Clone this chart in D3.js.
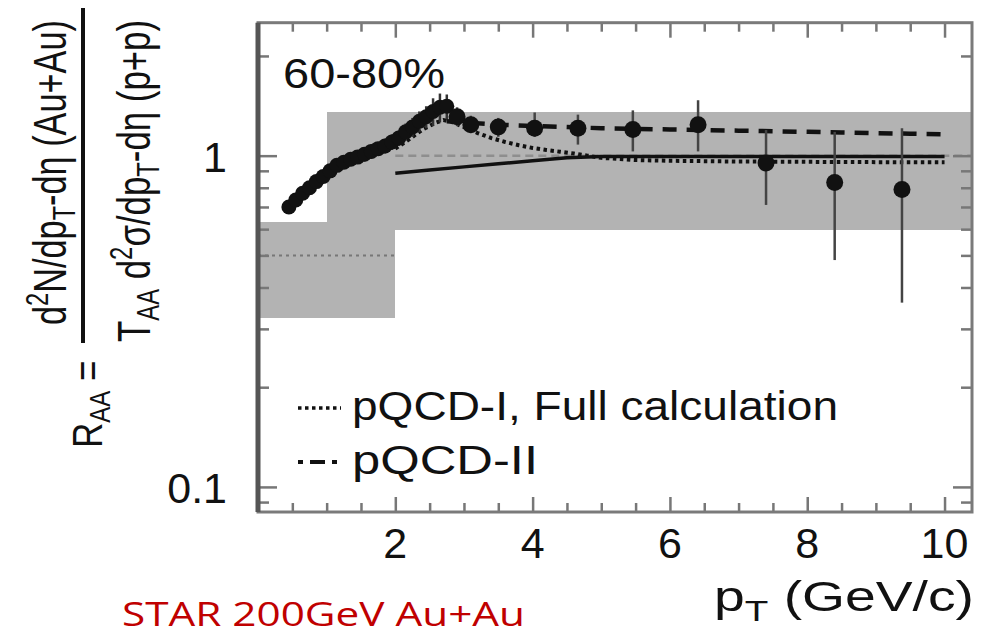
<!DOCTYPE html>
<html><head><meta charset="utf-8">
<script src="https://cdn.jsdelivr.net/npm/d3@7/dist/d3.min.js"></script>
<style>body{margin:0;background:#fff}svg{display:block}</style>
</head><body>
<svg id="c" width="981" height="636"></svg>
<script>
// ---------- data ----------
const xTickMajor = [2, 4, 6, 8, 10];
const xTickLabels = ["2", "4", "6", "8", "10"];
const yTickLabelValues = [0.1, 1];
const yTickLabels = ["0.1", "1"];

// dense STAR points (small markers)
const denseX = [0.45,0.55,0.65,0.75,0.85,0.95,1.05,1.15,1.25,1.35,1.45,1.55,1.65,1.75,1.85,1.95,2.05,2.15,2.25,2.35,2.45,2.55,2.65,2.75];
const denseY = [0.70,0.735,0.77,0.80,0.835,0.865,0.90,0.935,0.955,0.975,0.99,1.01,1.03,1.05,1.07,1.10,1.13,1.18,1.22,1.27,1.31,1.36,1.40,1.41];
const denseErr = [0.03,0.03,0.03,0.03,0.035,0.035,0.04,0.04,0.04,0.045,0.045,0.05,0.05,0.05,0.055,0.06,0.06,0.07,0.08,0.09,0.10,0.13,0.14,0.12];

// sparse STAR points (large markers)
const sparseX = [2.9, 3.1, 3.5, 4.03, 4.66, 5.46, 6.41, 7.40, 8.40, 9.38];
const sparseY = [1.31, 1.24, 1.22, 1.21, 1.21, 1.20, 1.24, 0.95, 0.83, 0.79];
const sparseLo = [1.23, 1.17, 1.14, 1.14, 1.08, 1.03, 1.03, 0.71, 0.484, 0.36];
const sparseHi = [1.40, 1.32, 1.30, 1.35, 1.33, 1.37, 1.47, 1.195, 1.18, 1.21];

// systematic (gray) bands: [x0, x1, yLo, yHi]
const bandX0 = [0, 1, 2];
const bandX1 = [1, 2, 10.4];
const bandLo = [0.323, 0.323, 0.597];
const bandHi = [0.632, 1.355, 1.355];

// model curves
const solidX = [2, 2.5, 3, 3.5, 4, 4.5, 5, 6, 7, 8, 9, 10];
const solidY = [0.885, 0.905, 0.925, 0.945, 0.965, 0.985, 0.995, 0.995, 0.995, 0.995, 0.995, 0.995];
const pqcd1X = [2.0, 2.2, 2.4, 2.6, 2.7, 2.8, 3.0, 3.2, 3.4, 3.6, 3.8, 4.0, 4.2, 4.4, 4.6, 4.8, 5.0, 5.5, 6, 7, 8, 9, 10];
const pqcd1Y = [1.05, 1.12, 1.20, 1.26, 1.28, 1.27, 1.22, 1.17, 1.13, 1.10, 1.075, 1.055, 1.04, 1.028, 1.015, 1.0, 0.985, 0.97, 0.965, 0.96, 0.958, 0.956, 0.955];
const pqcd2X = [2.75, 3, 3.5, 4, 4.5, 5, 5.5, 6, 6.5, 7, 7.5, 8, 8.5, 9, 9.5, 10];
const pqcd2Y = [1.27, 1.26, 1.24, 1.23, 1.22, 1.21, 1.205, 1.20, 1.195, 1.19, 1.185, 1.18, 1.175, 1.17, 1.165, 1.16];

// reference lines
const ref1 = {x0: 2, x1: 10.4, y: 1};
const ref05 = {x0: 0, x1: 2, y: 0.5};

const legendLabels = ["pQCD-I, Full calculation", "pQCD-II"];
const centralityLabel = "60-80%";
const footLabel = "STAR 200GeV Au+Au";

// ---------- scales ----------
const svg = d3.select("#c");
const L = 258, R = 972, T = 22.7, B = 512;
const x = d3.scaleLinear().domain([0, 10.4]).range([L, R]);
const y = d3.scaleLog().domain([0.084, 2.52]).range([B, T]);
const FONT = "'Liberation Sans', Arial, sans-serif";
const INK = "#111";

// bands
svg.append("g").selectAll("rect").data(bandX0).join("rect")
  .attr("x", (d,i) => x(bandX0[i]))
  .attr("width", (d,i) => x(bandX1[i]) - x(bandX0[i]))
  .attr("y", (d,i) => y(bandHi[i]))
  .attr("height", (d,i) => y(bandLo[i]) - y(bandHi[i]))
  .attr("fill", "#b3b3b3").attr("shape-rendering", "crispEdges");

// reference lines
svg.append("line").attr("x1", x(ref1.x0)).attr("x2", x(ref1.x1)).attr("y1", y(ref1.y)).attr("y2", y(ref1.y))
  .attr("stroke", "#8e8e8e").attr("stroke-width", 2.5).attr("stroke-dasharray", "8,5");
svg.append("line").attr("x1", x(ref05.x0)).attr("x2", x(ref05.x1)).attr("y1", y(ref05.y)).attr("y2", y(ref05.y))
  .attr("stroke", "#777").attr("stroke-width", 2).attr("stroke-dasharray", "3,4");

// model curves
const line = d3.line().x(d => x(d[0])).y(d => y(d[1]));
svg.append("path").datum(solidX.map((v,i) => [v, solidY[i]])).attr("d", line)
  .attr("fill", "none").attr("stroke", INK).attr("stroke-width", 3.5);
svg.append("path").datum(pqcd1X.map((v,i) => [v, pqcd1Y[i]])).attr("d", line)
  .attr("fill", "none").attr("stroke", INK).attr("stroke-width", 4).attr("stroke-dasharray", "3.5,3.5");
svg.append("path").datum(pqcd2X.map((v,i) => [v, pqcd2Y[i]])).attr("d", line)
  .attr("fill", "none").attr("stroke", INK).attr("stroke-width", 4.5).attr("stroke-dasharray", "14,10");

// dense points + errors
const gd = svg.append("g");
gd.selectAll("line").data(denseX).join("line")
  .attr("x1", d => x(d)).attr("x2", d => x(d))
  .attr("y1", (d,i) => y(denseY[i] + denseErr[i])).attr("y2", (d,i) => y(denseY[i] - denseErr[i]))
  .attr("stroke", "#333").attr("stroke-width", 2.5);
gd.selectAll("circle").data(denseX).join("circle")
  .attr("cx", d => x(d)).attr("cy", (d,i) => y(denseY[i])).attr("r", 7.5).attr("fill", INK);

// sparse points + errors
const gs = svg.append("g");
gs.selectAll("line").data(sparseX).join("line")
  .attr("x1", d => x(d)).attr("x2", d => x(d))
  .attr("y1", (d,i) => y(sparseHi[i])).attr("y2", (d,i) => y(sparseLo[i]))
  .attr("stroke", "#444").attr("stroke-width", 2.5);
gs.selectAll("circle").data(sparseX).join("circle")
  .attr("cx", d => x(d)).attr("cy", (d,i) => y(sparseY[i])).attr("r", 8.5).attr("fill", INK);

// ---------- axes (ticks inward on all four sides) ----------
const xMinor = d3.range(0.5, 10.41, 0.5).filter(v => xTickMajor.indexOf(v) < 0);
const yMinorVals = [0.09, 0.2, 0.3, 0.4, 0.5, 0.6, 0.7, 0.8, 0.9, 2];
const tickCol = "#777";
function styleAxis(g) { g.select(".domain").remove(); g.selectAll("line").attr("stroke", tickCol).attr("stroke-width", 2.5); g.selectAll("text").remove(); }
svg.append("g").attr("transform", `translate(0,${B})`).call(d3.axisBottom(x).tickValues(xTickMajor).tickSize(-15)).call(styleAxis);
svg.append("g").attr("transform", `translate(0,${B})`).call(d3.axisBottom(x).tickValues(xMinor).tickSize(-9)).call(styleAxis);
svg.append("g").attr("transform", `translate(0,${T})`).call(d3.axisTop(x).tickValues(xTickMajor).tickSize(-15)).call(styleAxis);
svg.append("g").attr("transform", `translate(0,${T})`).call(d3.axisTop(x).tickValues(xMinor).tickSize(-9)).call(styleAxis);
svg.append("g").attr("transform", `translate(${L},0)`).call(d3.axisLeft(y).tickValues(yTickLabelValues).tickSize(-19)).call(styleAxis);
svg.append("g").attr("transform", `translate(${L},0)`).call(d3.axisLeft(y).tickValues(yMinorVals).tickSize(-11)).call(styleAxis);
svg.append("g").attr("transform", `translate(${R},0)`).call(d3.axisRight(y).tickValues(yTickLabelValues).tickSize(-19)).call(styleAxis);
svg.append("g").attr("transform", `translate(${R},0)`).call(d3.axisRight(y).tickValues(yMinorVals).tickSize(-11)).call(styleAxis);

// frame
svg.append("rect").attr("x", L).attr("y", T).attr("width", R - L).attr("height", B - T)
  .attr("fill", "none").attr("stroke", "#7a7a7a").attr("stroke-width", 3);
svg.append("line").attr("x1", L).attr("x2", L).attr("y1", T).attr("y2", B).attr("stroke", "#555").attr("stroke-width", 5);

// tick labels
svg.append("g").selectAll("text").data(xTickMajor).join("text")
  .attr("x", d => x(d)).attr("y", 558).attr("text-anchor", "middle")
  .attr("font-family", FONT).attr("font-size", 43).attr("fill", INK)
  .text((d,i) => xTickLabels[i]);
svg.append("g").selectAll("text").data(yTickLabelValues).join("text")
  .attr("x", 227).attr("y", d => y(d) + 16).attr("text-anchor", "end")
  .attr("font-family", FONT).attr("font-size", 43).attr("fill", INK)
  .text((d,i) => yTickLabels[i]);

// centrality label
svg.append("text").attr("x", 283).attr("y", 88).attr("font-family", FONT).attr("font-size", 42)
  .attr("fill", INK).attr("textLength", 162).attr("lengthAdjust", "spacingAndGlyphs").text(centralityLabel);

// legend
svg.append("line").attr("x1", 298).attr("x2", 341).attr("y1", 408).attr("y2", 408)
  .attr("stroke", INK).attr("stroke-width", 3.5).attr("stroke-dasharray", "3.5,3.5");
svg.append("line").attr("x1", 298).attr("x2", 341).attr("y1", 462).attr("y2", 462)
  .attr("stroke", INK).attr("stroke-width", 4).attr("stroke-dasharray", "5,7,15,7,5");
svg.append("text").attr("x", 352).attr("y", 420).attr("font-family", FONT).attr("font-size", 41)
  .attr("fill", INK).attr("textLength", 486).attr("lengthAdjust", "spacingAndGlyphs").text(legendLabels[0]);
svg.append("text").attr("x", 352).attr("y", 474).attr("font-family", FONT).attr("font-size", 41)
  .attr("fill", INK).attr("textLength", 186).attr("lengthAdjust", "spacingAndGlyphs").text(legendLabels[1]);

// x-axis title
const xt = svg.append("text").attr("x", 714).attr("y", 611).attr("font-family", FONT).attr("font-size", 43)
  .attr("fill", INK).attr("textLength", 260).attr("lengthAdjust", "spacingAndGlyphs");
xt.append("tspan").text("p");
xt.append("tspan").attr("font-size", 30).attr("dy", 10).text("T");
xt.append("tspan").attr("dy", -10).text(" (GeV/c)");

// footer
svg.append("text").attr("x", 122).attr("y", 626).attr("font-family", "'Open Sans', 'Noto Sans', sans-serif")
  .attr("font-size", 32).attr("fill", "#c00000").attr("textLength", 403).attr("lengthAdjust", "spacingAndGlyphs").text(footLabel);

// y-axis title (rotated, horizontally stretched)
function rotText(bx, by, sx, build) {
  const t = svg.append("text").attr("transform", `translate(${bx},${by}) scale(${sx},1) rotate(-90)`)
    .attr("font-family", FONT).attr("font-size", 35).attr("fill", INK);
  build(t);
  return t;
}
// numerator
rotText(66, 325, 1.3, t => {
  t.append("tspan").text("d");
  t.append("tspan").attr("font-size", 24).attr("dy", -14).text("2");
  t.append("tspan").attr("dy", 14).text("N/dp");
  t.append("tspan").attr("font-size", 24).attr("dy", 7).text("T");
  t.append("tspan").attr("dy", -7).text("-dη  (Au+Au)");
}).attr("textLength", 305).attr("lengthAdjust", "spacingAndGlyphs");
// denominator
rotText(150, 342, 1.3, t => {
  t.append("tspan").text("T");
  t.append("tspan").attr("font-size", 24).attr("dy", 7).text("AA");
  t.append("tspan").attr("dy", -7).text(" d");
  t.append("tspan").attr("font-size", 24).attr("dy", -14).text("2");
  t.append("tspan").attr("dy", 14).text("σ/dp");
  t.append("tspan").attr("font-size", 24).attr("dy", 7).text("T");
  t.append("tspan").attr("dy", -7).text("-dη  (p+p)");
}).attr("textLength", 322).attr("lengthAdjust", "spacingAndGlyphs");
// fraction bar
svg.append("line").attr("x1", 83).attr("x2", 83).attr("y1", 8).attr("y2", 343).attr("stroke", INK).attr("stroke-width", 4);
// R_AA =
rotText(102, 448, 1.2, t => {
  t.append("tspan").text("R");
  t.append("tspan").attr("font-size", 24).attr("dy", 7).text("AA");
  t.append("tspan").attr("dy", -7).text(" =");
});
</script>
</body></html>
